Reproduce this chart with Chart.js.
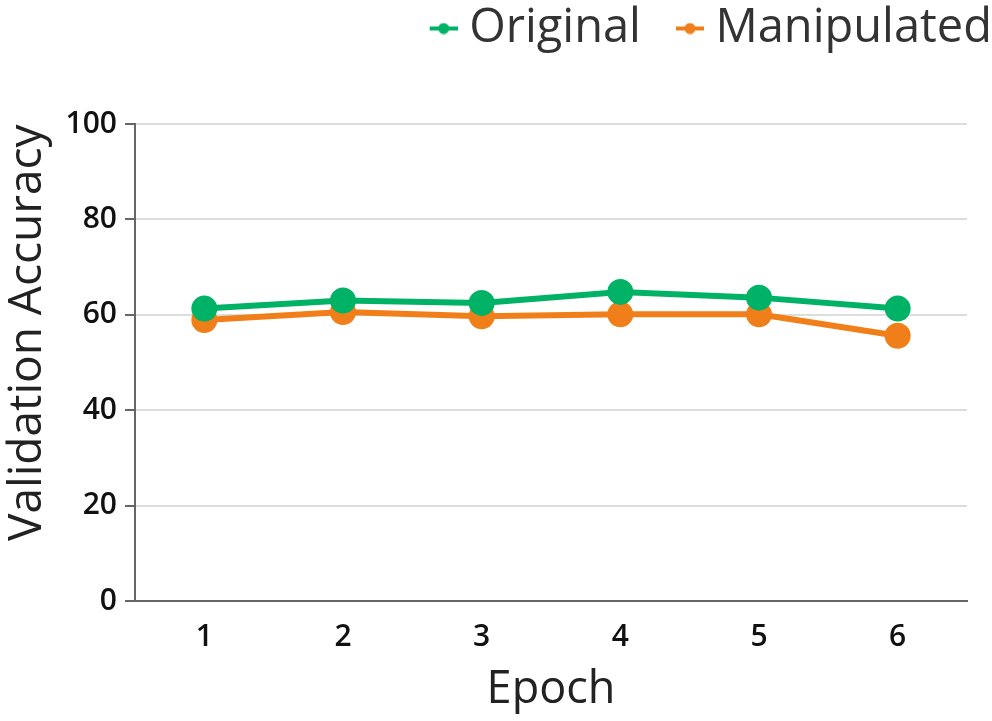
<!DOCTYPE html>
<html><head><meta charset="utf-8">
<script src="https://cdn.jsdelivr.net/npm/chart.js@4.4.1/dist/chart.umd.min.js"></script>
<style>html,body{margin:0;padding:0;background:#fff}#wrap{width:992px;height:721px}</style>
</head><body><div id="wrap"><canvas id="c"></canvas></div>
<script>
const epochs = ['1','2','3','4','5','6'];
const originalAcc = [61.3, 63.0, 62.5, 64.8, 63.6, 61.3];
const manipulatedAcc = [58.9, 60.6, 59.7, 60.1, 60.1, 55.6];
const yTicks = [0, 20, 40, 60, 80, 100];
const seriesNames = ['Original', 'Manipulated'];
const colors = ['#00b265', '#f07f1a'];
const FONT = 'Open Sans';

const BOXW = 41;
function legendIcon(color) {
  const cv = document.createElement('canvas');
  const W = BOXW + 24;
  cv.width = W; cv.height = 12;
  const g = cv.getContext('2d');
  g.strokeStyle = color; g.lineWidth = 4;
  g.beginPath(); g.moveTo(W - 28, 6); g.lineTo(W, 6); g.stroke();
  g.fillStyle = color; g.beginPath(); g.arc(W - 14, 6, 5.5, 0, Math.PI * 2); g.fill();
  return cv;
}
const icons = colors.map(legendIcon);

const legendSpacer = {
  id: 'legendSpacer',
  beforeInit(chart) {
    const fit = chart.legend.fit;
    chart.legend.fit = function () { fit.bind(chart.legend)(); this.height += 62; };
  }
};

new Chart(document.getElementById('c'), {
  type: 'line',
  plugins: [legendSpacer],
  data: {
    labels: epochs,
    datasets: [
      { label: seriesNames[0], data: originalAcc, borderColor: colors[0], backgroundColor: colors[0], borderWidth: 6, pointRadius: 10, pointHoverRadius: 10, pointStyle: 'circle' },
      { label: seriesNames[1], data: manipulatedAcc, borderColor: colors[1], backgroundColor: colors[1], borderWidth: 6, pointRadius: 10, pointHoverRadius: 10, pointStyle: 'circle' }
    ]
  },
  options: {
    responsive: true, maintainAspectRatio: false, animation: false,
    layout: { padding: { left: 0, right: -10, top: -5, bottom: 0 } },
    plugins: {
      tooltip: { enabled: false },
      legend: {
        position: 'top', align: 'end',
        labels: {
          usePointStyle: true, pointStyleWidth: BOXW,
          generateLabels: (chart) => chart.data.datasets.map((d, i) => ({
            text: d.label, pointStyle: icons[i], fillStyle: colors[i], strokeStyle: colors[i],
            lineWidth: 0, hidden: false, datasetIndex: i, fontColor: '#333'
          })),
          color: '#333', font: { family: FONT, size: 47 }, padding: 10
        }
      }
    },
    scales: {
      x: {
        offset: true,
        grid: { display: false, drawTicks: true, tickLength: 10, color: '#666' },
        border: { display: true, color: '#666', width: 2 },
        ticks: { color: '#111', font: { family: FONT, size: 30, weight: '600' }, padding: 8 },
        title: { display: true, text: 'Epoch', color: '#222', font: { family: FONT, size: 45 }, padding: { top: 0, bottom: 4 } }
      },
      y: {
        min: 0, max: 100,
        afterBuildTicks: (ax) => { ax.ticks = yTicks.map(v => ({ value: v })); },
        afterFit: (ax) => { ax.width = 135; },
        grid: { color: '#dddddd', lineWidth: 2, tickLength: 10, tickColor: '#666' },
        border: { display: true, color: '#666', width: 2 },
        ticks: { color: '#111', font: { family: FONT, size: 30, weight: '600' }, padding: 8 },
        title: { display: true, text: '     Validation Accuracy', color: '#222', font: { family: FONT, size: 46 }, padding: 0 }
      },
      yRight: {
        position: 'right', display: true,
        afterFit: (ax) => { ax.width = 35; },
        grid: { display: false, drawTicks: false },
        border: { display: false },
        ticks: { display: false }
      }
    }
  }
});
</script></body></html>
